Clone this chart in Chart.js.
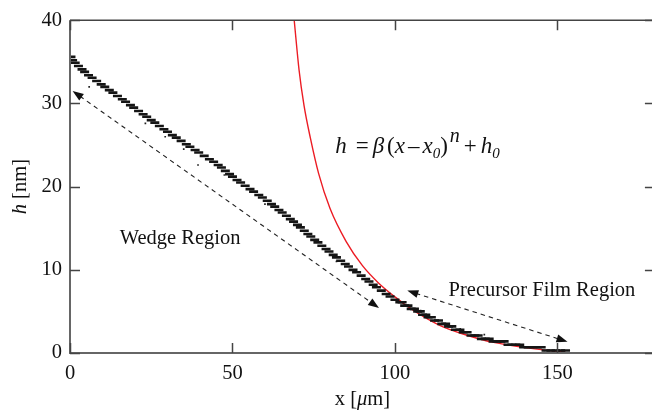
<!DOCTYPE html>
<html>
<head>
<meta charset="utf-8">
<script src="https://cdn.jsdelivr.net/npm/chart.js@4.4.1/dist/chart.umd.min.js"></script>
<style>
  html, body { margin: 0; padding: 0; background: #fff; overflow: hidden; }
  #wrap { position: absolute; left: 0; top: 0; width: 662px; height: 415px; }
</style>
</head>
<body>
<div id="wrap"><canvas id="c" width="662" height="415"></canvas></div>
<script>
/* ── data ── */
// measured film height (staircase of quantised h values)
const wedgeX = [
  0.3, 0.8, 1.6, 2.6, 3.7, 4.5, 5.7, 6.8, 8.2, 9.6,
  10.7, 12.1, 13.2, 14.6, 16.1, 17.1, 18.6, 19.6, 21.1, 22.5,
  23.6, 25.0, 26.1, 27.5, 28.9, 30.0, 31.5, 32.7, 34.2, 35.8,
  36.9, 38.5, 39.6, 41.3, 42.9, 44.2, 45.6, 46.6, 47.8, 49.1,
  50.0, 51.4, 52.5, 53.9, 55.4, 56.5, 58.1, 59.2, 60.7, 62.0,
  63.0, 64.3, 65.3, 66.6, 67.8, 68.8, 70.0, 70.9, 72.1, 73.2,
  74.1, 75.3, 76.3, 77.5, 78.8, 79.7, 81.0, 82.0, 83.3, 84.7,
  85.7, 87.1, 88.2, 89.6, 91.0, 92.0, 93.3, 94.3, 95.8, 97.3,
  98.5, 100.0,
  101.5, 102.2, 103.0, 104.0, 105.0, 106.0, 107.0, 107.8, 108.5, 109.5,
  110.2, 111.2, 112.2, 113.4, 114.4, 115.6, 116.5, 117.5, 118.6, 120.0,
  121.0, 122.2, 123.4, 124.6, 125.6, 126.6, 127.8, 129.0,
  130.2, 131.4, 132.6, 133.6, 134.8, 136.0, 137.2, 138.4,
  139.6, 141.0, 142.4, 143.8, 145.0, 146.5, 148.0, 149.5, 151.0, 152.5
];
const wedgeH = [
  35.6, 35.2, 34.9, 34.5, 34.1, 33.8, 33.4, 33.1, 32.7, 32.3,
  32.0, 31.6, 31.3, 30.9, 30.5, 30.2, 29.8, 29.5, 29.1, 28.7,
  28.4, 28.0, 27.7, 27.3, 26.9, 26.6, 26.2, 25.9, 25.5, 25.1,
  24.8, 24.4, 24.1, 23.7, 23.3, 23.0, 22.6, 22.3, 21.9, 21.5,
  21.2, 20.8, 20.5, 20.1, 19.7, 19.4, 19.0, 18.7, 18.3, 17.9,
  17.6, 17.2, 16.9, 16.5, 16.1, 15.8, 15.4, 15.1, 14.7, 14.3,
  14.0, 13.6, 13.3, 12.9, 12.5, 12.2, 11.8, 11.5, 11.1, 10.7,
  10.4, 10.0, 9.7, 9.3, 8.9, 8.6, 8.2, 7.9, 7.5, 7.1,
  6.8, 6.4,
  6.1, 6.1, 5.7, 5.7, 5.3, 5.3, 5.0, 5.0, 4.6, 4.6,
  4.3, 4.3, 3.9, 3.9, 3.5, 3.5, 3.2, 3.2, 2.8, 2.8,
  2.5, 2.5, 2.1, 2.1, 2.1, 1.7, 1.7, 1.7,
  1.4, 1.4, 1.4, 1.4, 1.0, 1.0, 1.0, 1.0,
  0.7, 0.7, 0.7, 0.7, 0.7, 0.3, 0.3, 0.3, 0.3, 0.3
];
// loose single dots off the main band
const strayX = [5.9, 23.2, 29.3, 35.0, 39.4, 47.5, 60.0, 82.0, 107.9, 120.1, 127.5, 144.7, 143.5, 146.0];
const strayH = [32.0, 27.6, 26.0, 24.5, 22.6, 21.4, 17.9, 11.0, 5.1, 2.9, 2.2, 0.75, 0.0, 0.05];
// fitted curve h = beta (x - x0)^n + h0
const fitX = [69.0, 70.5, 72.0, 74.0, 76.5, 80.0, 85.0, 90.0, 95.0, 100.0,
              105.0, 110.0, 115.0, 120.0, 125.0, 130.0, 135.0, 140.0, 145.0, 150.0, 152.5];
const fitH = [40.0, 34.0, 29.8, 25.8, 21.6, 17.4, 13.4, 10.5, 8.4, 6.75,
              5.3, 4.1, 3.1, 2.4, 1.8, 1.3, 0.95, 0.65, 0.4, 0.2, 0.1];
// double-headed dashed arrows [x1, h1, x2, h2]
const wedgeArrow = [0.8, 31.5, 95.1, 5.4];
const precursorArrow = [103.8, 7.5, 153.1, 1.35];
const xTicks = [0, 50, 100, 150];
const yTicks = [0, 10, 20, 30, 40];

const SERIF = '"Liberation Serif", "Times New Roman", serif';
const pts = (xs, ys) => xs.map((x, i) => ({ x, y: ys[i] }));

/* ── helpers ── */
function arrowHead(ctx, x1, y1, x2, y2) {
  // tip at (x2, y2)
  const a = Math.atan2(y2 - y1, x2 - x1), L = 11, W = 4;
  ctx.beginPath();
  ctx.moveTo(x2, y2);
  ctx.lineTo(x2 - L * Math.cos(a) + W * Math.sin(a), y2 - L * Math.sin(a) - W * Math.cos(a));
  ctx.lineTo(x2 - L * Math.cos(a) - W * Math.sin(a), y2 - L * Math.sin(a) + W * Math.cos(a));
  ctx.closePath();
  ctx.fill();
}

function dashedArrow(ctx, sx, sy, arr) {
  const x1 = sx.getPixelForValue(arr[0]), y1 = sy.getPixelForValue(arr[1]);
  const x2 = sx.getPixelForValue(arr[2]), y2 = sy.getPixelForValue(arr[3]);
  const a = Math.atan2(y2 - y1, x2 - x1);
  ctx.save();
  ctx.strokeStyle = '#222';
  ctx.fillStyle = '#111';
  ctx.lineWidth = 1.1;
  ctx.setLineDash([4.5, 4]);
  ctx.beginPath();
  ctx.moveTo(x1 + 9 * Math.cos(a), y1 + 9 * Math.sin(a));
  ctx.lineTo(x2 - 9 * Math.cos(a), y2 - 9 * Math.sin(a));
  ctx.stroke();
  ctx.setLineDash([]);
  arrowHead(ctx, x2, y2, x1, y1);
  arrowHead(ctx, x1, y1, x2, y2);
  ctx.restore();
}

// draw a row of text pieces with different fonts / offsets
function richText(ctx, x, y, parts) {
  parts.forEach(p => {
    ctx.font = p.f;
    ctx.fillText(p.t, x + (p.dx || 0), y + (p.dy || 0));
    x += ctx.measureText(p.t).width + (p.dx || 0);
  });
  return x;
}

/* ── frame, inward ticks, labels ── */
const framePlugin = {
  id: 'frame',
  afterDraw(chart) {
    const { ctx, chartArea: a, scales: { x: sx, y: sy } } = chart;
    ctx.save();
    // axes
    ctx.strokeStyle = '#666';
    ctx.lineWidth = 2;
    ctx.beginPath();
    ctx.moveTo(a.left, a.top); ctx.lineTo(a.left, a.bottom); ctx.lineTo(a.right, a.bottom);
    ctx.stroke();
    ctx.strokeStyle = '#444';
    ctx.lineWidth = 1.5;
    ctx.beginPath();
    ctx.moveTo(a.left, a.top); ctx.lineTo(a.right, a.top); ctx.lineTo(a.right, a.bottom);
    ctx.stroke();
    // inward ticks on all four sides
    ctx.strokeStyle = '#444';
    ctx.lineWidth = 1.5;
    ctx.beginPath();
    xTicks.forEach(v => {
      const px = Math.round(sx.getPixelForValue(v)) + 0.5;
      ctx.moveTo(px, a.bottom); ctx.lineTo(px, a.bottom - 10);
      ctx.moveTo(px, a.top); ctx.lineTo(px, a.top + 10);
    });
    yTicks.forEach(v => {
      const py = Math.round(sy.getPixelForValue(v)) + 0.5;
      ctx.moveTo(a.left, py); ctx.lineTo(a.left + 10, py);
      ctx.moveTo(a.right, py); ctx.lineTo(a.right - 10, py);
    });
    ctx.stroke();

    dashedArrow(ctx, sx, sy, wedgeArrow);
    dashedArrow(ctx, sx, sy, precursorArrow);

    ctx.fillStyle = '#111';
    ctx.textBaseline = 'alphabetic';
    ctx.textAlign = 'left';
    ctx.font = '20.5px ' + SERIF;
    ctx.fillText('Wedge Region', sx.getPixelForValue(15.3), sy.getPixelForValue(13.05));
    ctx.fillText('Precursor Film Region', sx.getPixelForValue(116.5), sy.getPixelForValue(6.9));

    // formula
    const it = 'italic 23px ' + SERIF, up = '23px ' + SERIF, sub = 'italic 15px ' + SERIF;
    richText(ctx, sx.getPixelForValue(81.6), sy.getPixelForValue(24.0), [
      { t: 'h', f: it },
      { t: '=', f: up, dx: 9 },
      { t: 'β', f: it, dx: 4 },
      { t: '(', f: up, dx: 3 },
      { t: 'x', f: it },
      { t: '–', f: up, dx: 3 },
      { t: 'x', f: it, dx: 3 },
      { t: '0', f: sub, dy: 5 },
      { t: ')', f: up },
      { t: 'n', f: 'italic 20px ' + SERIF, dx: 2, dy: -11 },
      { t: '+', f: up, dx: 4 },
      { t: 'h', f: it, dx: 4 },
      { t: '0', f: sub, dy: 5 }
    ]);

    // axis titles
    const f = '20.5px ' + SERIF, fi = 'italic 20.5px ' + SERIF;
    ctx.font = f;
    const w1 = ctx.measureText('x [').width, w3 = ctx.measureText('m]').width;
    ctx.font = fi;
    const w2 = ctx.measureText('μ').width;
    const cx = sx.getPixelForValue(90) - (w1 + w2 + w3) / 2;
    richText(ctx, cx, 405, [{ t: 'x [', f }, { t: 'μ', f: fi }, { t: 'm]', f }]);

    ctx.translate(25.5, sy.getPixelForValue(20));
    ctx.rotate(-Math.PI / 2);
    ctx.font = fi;
    const v1 = ctx.measureText('h').width;
    ctx.font = f;
    const v2 = ctx.measureText(' [nm]').width;
    richText(ctx, -(v1 + v2) / 2, 0, [{ t: 'h', f: fi }, { t: ' [nm]', f }]);
    ctx.restore();
  }
};

new Chart(document.getElementById('c'), {
  type: 'scatter',
  data: {
    datasets: [
      {
        label: 'fit',
        type: 'line',
        data: pts(fitX, fitH),
        borderColor: '#ec1c24',
        borderWidth: 1.4,
        pointRadius: 0,
        fill: false,
        cubicInterpolationMode: 'monotone',
        order: 2
      },
      {
        label: 'measured',
        data: pts(wedgeX, wedgeH),
        pointStyle: 'line',
        pointRadius: 4.5,
        borderWidth: 2.6,
        borderColor: '#151515',
        backgroundColor: '#151515',
        order: 1
      },
      {
        label: 'stray',
        data: pts(strayX, strayH),
        pointStyle: 'rect',
        pointRadius: 1.2,
        borderWidth: 0,
        backgroundColor: '#222',
        order: 1
      }
    ]
  },
  options: {
    responsive: false,
    animation: false,
    events: [],
    layout: { padding: { top: 17, right: 5, left: 0, bottom: 0 } },
    plugins: { legend: { display: false }, tooltip: { enabled: false } },
    scales: {
      x: {
        type: 'linear', min: 0, max: 180,
        afterBuildTicks: s => { s.ticks = xTicks.map(v => ({ value: v })); },
        afterFit: s => { s.height = 62; },
        grid: { display: false, drawTicks: false },
        border: { display: false },
        ticks: { color: '#111', padding: 8, maxRotation: 0, font: { family: SERIF, size: 20.5 } }
      },
      y: {
        type: 'linear', min: 0, max: 40,
        afterBuildTicks: s => { s.ticks = yTicks.map(v => ({ value: v })); },
        afterFit: s => { s.width = 70; },
        grid: { display: false, drawTicks: false },
        border: { display: false },
        ticks: { color: '#111', padding: 8, font: { family: SERIF, size: 20.5 } }
      }
    }
  },
  plugins: [framePlugin]
});
</script>
</body>
</html>
